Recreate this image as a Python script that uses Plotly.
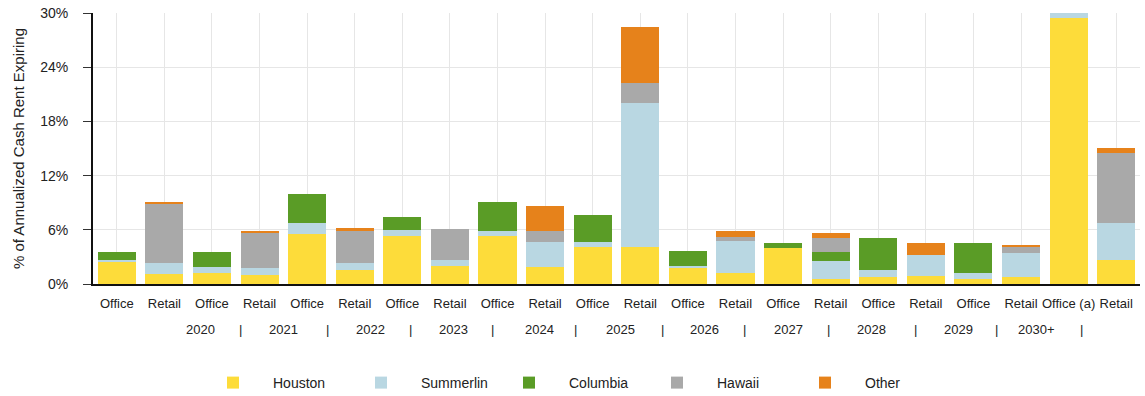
import plotly.graph_objects as go

# ---- data ----
categories = ["Office", "Retail"] * 10 + ["Office (a)", "Retail"]
years = ["2020", "2021", "2022", "2023", "2024", "2025", "2026", "2027", "2028", "2029", "2030+"]

houston   = [2.4, 1.1, 1.2, 1.0, 5.5, 1.6, 5.3, 2.0, 5.3, 1.9, 4.1, 4.1, 1.85, 1.2, 4.0, 0.5, 0.8, 0.9, 0.5, 0.8, 29.5, 2.7]
summerlin = [0.3, 1.2, 0.7, 0.8, 1.2, 0.7, 0.7, 0.7, 0.6, 2.7, 0.5, 15.9, 0.15, 3.6, 0.0, 2.0, 0.8, 2.3, 0.7, 2.6, 0.6, 4.1]
columbia  = [0.8, 0.0, 1.6, 0.0, 3.3, 0.0, 1.4, 0.0, 3.2, 0.0, 3.0, 0.0, 1.6, 0.0, 0.5, 1.0, 3.5, 0.0, 3.3, 0.0, 0.0, 0.0]
hawaii    = [0.0, 6.6, 0.0, 3.9, 0.0, 3.6, 0.0, 3.4, 0.0, 1.3, 0.0, 2.3, 0.0, 0.4, 0.0, 1.6, 0.0, 0.0, 0.0, 0.8, 0.0, 7.7]
other     = [0.0, 0.2, 0.0, 0.2, 0.0, 0.3, 0.0, 0.0, 0.0, 2.7, 0.0, 6.1, 0.0, 0.7, 0.0, 0.6, 0.0, 1.3, 0.0, 0.1, 0.0, 0.6]

series_names = ["Houston", "Summerlin", "Columbia", "Hawaii", "Other"]
series_values = [houston, summerlin, columbia, hawaii, other]
series_colors = ["#FDDC3A", "#B9D7E2", "#5A9C26", "#A9A9A9", "#E6821B"]

# layout helpers (pixel positions of year-row labels)
year_px = [200, 283, 370, 453, 539, 620, 704, 788, 871, 958, 1036]
sep_px = [240, 327, 410, 492, 575, 662, 744, 828, 915, 996, 1081]

W, H = 1145, 396
ML, MR, MT, MB = 93, 5, 11, 112
PW = W - ML - MR
PH = H - MT - MB

FONT = "Liberation Sans, Arial, sans-serif"
TXT = "#222222"

x_idx = list(range(len(categories)))

fig = go.Figure()
for name, vals, col in zip(series_names, series_values, series_colors):
    fig.add_trace(go.Bar(
        x=x_idx, y=vals, name=name,
        marker=dict(color=col, line=dict(width=0)),
    ))

annotations = []
row_y = (H - MB - 330) / PH
for yr, px in zip(years, year_px):
    annotations.append(dict(x=(px - ML) / PW, y=row_y, xref="paper", yref="paper",
                            xanchor="center", yanchor="middle",
                            text=yr, showarrow=False, font=dict(size=13, color=TXT, family=FONT)))
for px in sep_px:
    annotations.append(dict(x=(px - ML) / PW, y=row_y, xref="paper", yref="paper",
                            xanchor="center", yanchor="middle",
                            text="|", showarrow=False, font=dict(size=13, color=TXT, family=FONT)))

fig.update_layout(
    width=W, height=H,
    margin=dict(l=ML, r=MR, t=MT, b=MB),
    barmode="stack",
    bargap=0.2,
    plot_bgcolor="white", paper_bgcolor="white",
    font=dict(family=FONT, size=13, color=TXT),
    showlegend=True,
    legend=dict(orientation="h", x=193 / W, xref="container", y=(H - 383) / H, yref="container",
                xanchor="left", yanchor="middle", font=dict(size=14, color=TXT, family=FONT),
                entrywidth=63, entrywidthmode="pixels", itemwidth=70, traceorder="normal"),
    annotations=annotations,
    xaxis=dict(
        tickmode="array", tickvals=x_idx, ticktext=categories,
        range=[-0.5, len(categories) - 0.5],
        showgrid=True, gridcolor="#E6E6E6", gridwidth=1,
        showline=True, linecolor="#111111", linewidth=2,
        ticks="", ticklabelstandoff=6,
        tickfont=dict(size=13, color=TXT, family=FONT),
        zeroline=False, fixedrange=True,
    ),
    yaxis=dict(
        range=[0, 30], dtick=6, tick0=0, ticksuffix="%",
        showgrid=True, gridcolor="#E6E6E6", gridwidth=1,
        showline=True, linecolor="#111111", linewidth=2,
        ticks="outside", ticklen=8, tickcolor="#333333", ticklabelstandoff=12,
        tickfont=dict(size=14, color=TXT, family=FONT),
        zeroline=False,
        title=dict(text="% of Annualized Cash Rent Expiring", font=dict(size=15, color=TXT, family=FONT), standoff=12),
    ),
)

fig.write_html("out.html")
